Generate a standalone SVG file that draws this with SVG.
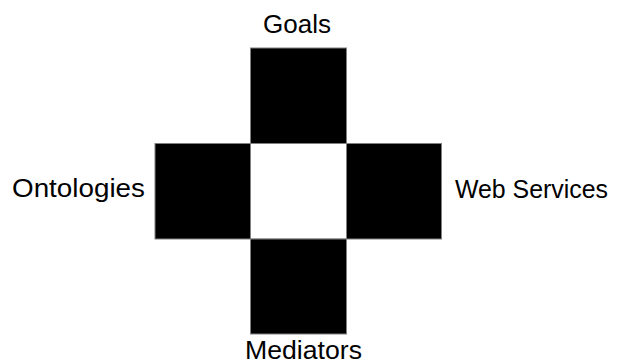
<svg xmlns="http://www.w3.org/2000/svg" width="625" height="363" viewBox="0 0 625 363">
<style>
.b{fill:#000;stroke:#808080;stroke-width:1}
.w{fill:#fff;stroke:#808080;stroke-width:1}
.t{font-family:"Liberation Sans",Arial,sans-serif;font-size:25px;fill:#000}
</style>
<rect width="625" height="363" fill="#fff"/>
<g id="goals"><rect class="b" x="250.5" y="48" width="96" height="95.5"/><text class="t" x="263" y="33" textLength="68" lengthAdjust="spacingAndGlyphs">Goals</text></g>
<g id="ontologies"><rect class="b" x="155" y="143.5" width="95.5" height="95.5"/><text class="t" x="12" y="197" textLength="133" lengthAdjust="spacingAndGlyphs">Ontologies</text></g>
<g id="center"><rect class="w" x="250.5" y="143.5" width="96" height="95.5"/></g>
<g id="webservices"><rect class="b" x="346.5" y="143.5" width="95" height="95.5"/><text class="t" x="455" y="198" textLength="153" lengthAdjust="spacingAndGlyphs">Web Services</text></g>
<g id="mediators"><rect class="b" x="250.5" y="239" width="96" height="95"/><text class="t" x="245" y="359" textLength="117" lengthAdjust="spacingAndGlyphs">Mediators</text></g>
<g id="connectors"></g>
</svg>
